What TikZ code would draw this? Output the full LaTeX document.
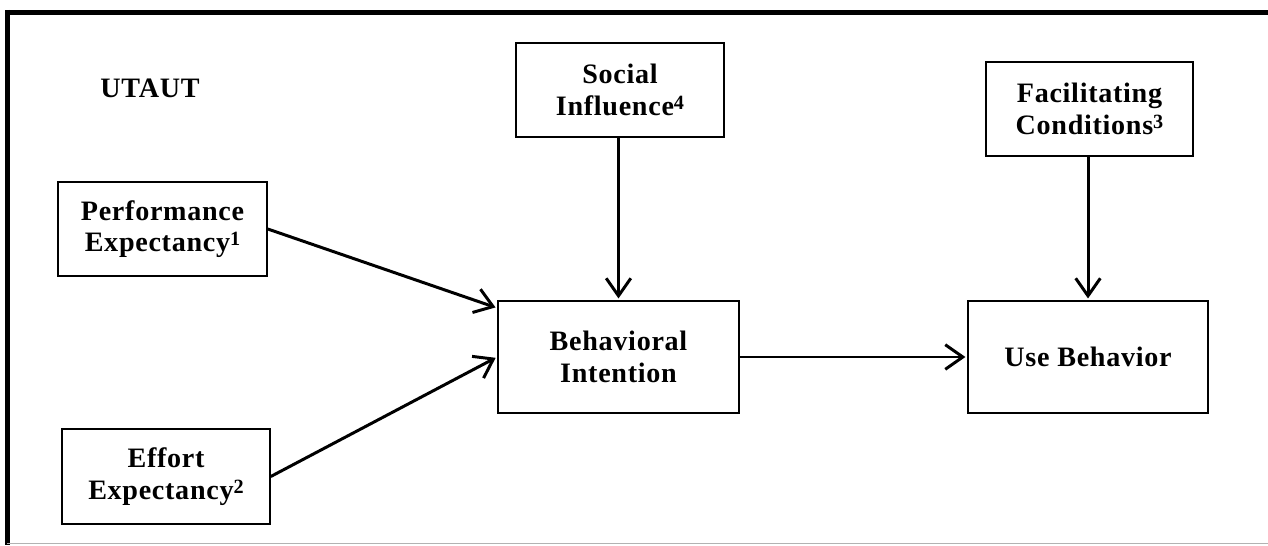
\documentclass[tikz,border=0pt]{standalone}
\usepackage{fontspec}
\setmainfont{Liberation Serif}[LetterSpace=2.5]
\usepackage{tikz}
\usetikzlibrary{arrows.meta}
\newcommand{\supnum}[1]{\raisebox{3.4pt}{\fontsize{11.5}{11.5}\selectfont #1}}

\begin{document}
\begin{tikzpicture}[
  box/.style={draw, line width=0.9pt, align=center, inner sep=0pt,
    font=\fontsize{16}{17.8}\selectfont\bfseries},
  arr/.style={line width=1.7pt, -{Straight Barb[length=10pt,width=14pt,line width=1.7pt]}, shorten >=1pt}
]
  \useasboundingbox (0,0) rectangle (25.36,10.9);
  \draw[line width=0.1cm] (0.1,10.65) -- (25.36,10.65);
  \draw[line width=0.1cm] (0.15,10.7) -- (0.15,0);
  \draw[gray!60, line width=0.03cm] (0.15,0.03) -- (25.36,0.03);

  \node[font=\fontsize{16}{17.8}\selectfont\bfseries] (utaut) at (3.0,9.14) {UTAUT};
  \node[box, minimum width=4.18cm, minimum height=1.88cm] (pe) at (3.25,6.32) {Performance\\Expectancy\supnum{1}};
  \node[box, minimum width=4.16cm, minimum height=1.9cm] (ee) at (3.32,1.37) {Effort\\Expectancy\supnum{2}};
  \node[box, minimum width=4.16cm, minimum height=1.88cm] (si) at (12.4,9.1) {Social\\Influence\supnum{4}};
  \node[box, minimum width=4.82cm, minimum height=2.24cm] (bi) at (12.37,3.76) {Behavioral\\Intention};
  \node[box, minimum width=4.14cm, minimum height=1.88cm] (fc) at (21.79,8.72) {Facilitating\\Conditions\supnum{3}};
  \node[box, minimum width=4.8cm, minimum height=2.24cm] (ub) at (21.76,3.76) {Use Behavior};

  \draw[arr] (pe.east) -- ([yshift=0.98cm]bi.west);
  \draw[arr] (ee.east) -- (bi.west);
  \draw[arr] (si.south -| bi.north) -- (bi.north);
  \draw[arr] (bi.east) -- (ub.west);
  \draw[arr] (fc.south -| ub.north) -- (ub.north);
\end{tikzpicture}
\end{document}
